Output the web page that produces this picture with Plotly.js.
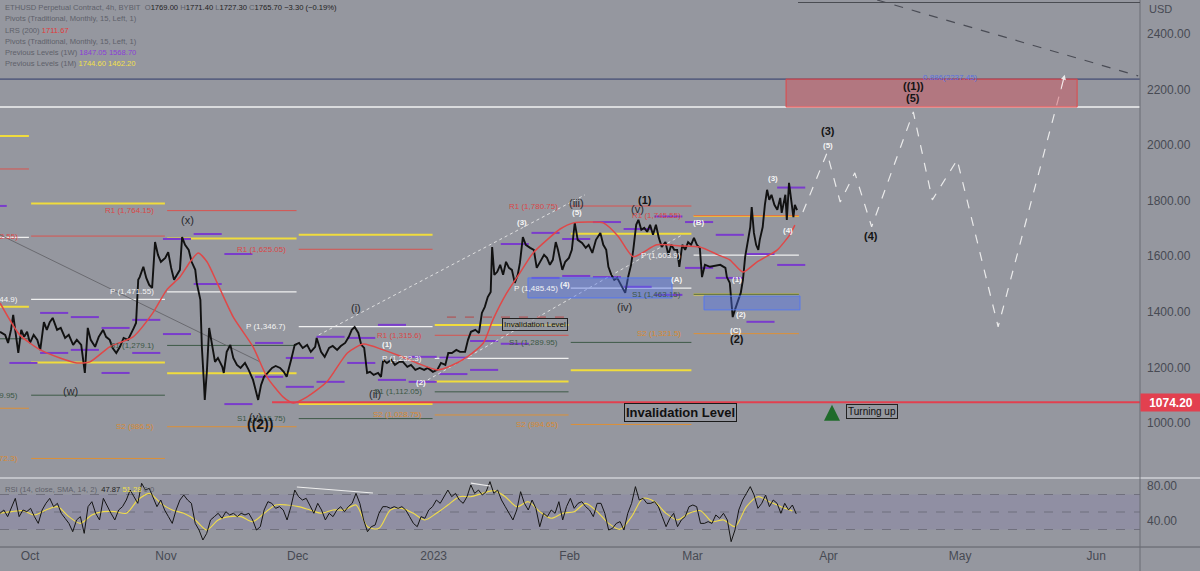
<!DOCTYPE html>
<html><head><meta charset="utf-8">
<script src="https://cdn.plot.ly/plotly-3.0.1.min.js"></script>
<style>html,body{margin:0;padding:0;background:#95979f;overflow:hidden}#chart{width:1200px;height:571px}</style>
</head><body><div id="chart"></div>
<script>
// ---------------- DATA ----------------
const priceTime = [
'2022-09-24 04:00','2022-09-25 08:00','2022-09-26 00:00','2022-09-26 16:00','2022-09-27 04:00','2022-09-27 20:00','2022-09-28 08:00','2022-09-29 00:00','2022-09-29 16:00','2022-09-30 08:00',
'2022-10-01 00:00','2022-10-01 20:00','2022-10-02 16:00','2022-10-03 08:00','2022-10-04 04:00','2022-10-04 20:00','2022-10-05 12:00','2022-10-06 04:00','2022-10-07 04:00','2022-10-08 00:00',
'2022-10-09 00:00','2022-10-09 20:00','2022-10-10 20:00','2022-10-11 16:00','2022-10-12 16:00','2022-10-13 12:00','2022-10-14 04:00','2022-10-14 20:00','2022-10-15 20:00','2022-10-16 16:00',
'2022-10-17 16:00','2022-10-18 08:00','2022-10-19 04:00','2022-10-19 20:00','2022-10-20 16:00','2022-10-21 12:00','2022-10-22 08:00','2022-10-23 08:00','2022-10-24 00:00','2022-10-24 16:00',
'2022-10-25 04:00','2022-10-25 16:00','2022-10-26 00:00','2022-10-26 20:00','2022-10-27 12:00','2022-10-28 04:00','2022-10-28 20:00','2022-10-29 12:00','2022-10-30 04:00','2022-10-30 20:00',
'2022-10-31 20:00','2022-11-01 12:00','2022-11-02 04:00','2022-11-02 20:00','2022-11-03 12:00','2022-11-04 04:00','2022-11-04 16:00','2022-11-05 08:00','2022-11-06 04:00','2022-11-06 20:00',
'2022-11-07 16:00','2022-11-08 00:00','2022-11-08 20:00','2022-11-09 04:00','2022-11-09 16:00','2022-11-09 20:00','2022-11-10 08:00','2022-11-10 20:00','2022-11-11 12:00','2022-11-12 04:00',
'2022-11-12 20:00','2022-11-13 20:00','2022-11-14 04:00','2022-11-14 20:00','2022-11-15 16:00','2022-11-16 08:00','2022-11-17 04:00','2022-11-18 00:00','2022-11-19 00:00','2022-11-19 20:00',
'2022-11-20 20:00','2022-11-21 12:00','2022-11-22 00:00','2022-11-22 16:00','2022-11-23 08:00','2022-11-24 04:00','2022-11-25 04:00','2022-11-26 00:00','2022-11-27 00:00','2022-11-27 20:00',
'2022-11-28 12:00','2022-11-29 12:00','2022-11-30 08:00','2022-12-01 08:00','2022-12-02 04:00','2022-12-03 04:00','2022-12-04 00:00','2022-12-05 00:00','2022-12-05 08:00','2022-12-06 08:00',
'2022-12-07 04:00','2022-12-08 04:00','2022-12-09 00:00','2022-12-10 00:00','2022-12-10 20:00','2022-12-11 20:00','2022-12-12 16:00','2022-12-13 08:00','2022-12-14 00:00','2022-12-14 20:00',
'2022-12-15 12:00','2022-12-16 04:00','2022-12-16 20:00','2022-12-17 12:00','2022-12-18 08:00','2022-12-19 08:00','2022-12-20 00:00','2022-12-20 12:00','2022-12-21 08:00','2022-12-22 08:00',
'2022-12-23 04:00','2022-12-24 04:00','2022-12-25 00:00','2022-12-26 00:00','2022-12-26 20:00','2022-12-27 20:00','2022-12-28 20:00','2022-12-29 20:00','2022-12-30 16:00','2022-12-31 20:00',
'2023-01-01 20:00','2023-01-02 16:00','2023-01-03 16:00','2023-01-04 08:00','2023-01-05 04:00','2023-01-06 04:00','2023-01-07 00:00','2023-01-08 04:00','2023-01-08 20:00','2023-01-09 12:00',
'2023-01-10 12:00','2023-01-11 08:00','2023-01-12 00:00','2023-01-12 16:00','2023-01-13 08:00','2023-01-14 00:00','2023-01-14 08:00','2023-01-14 20:00','2023-01-15 12:00','2023-01-16 04:00',
'2023-01-16 20:00','2023-01-17 12:00','2023-01-18 04:00','2023-01-18 20:00','2023-01-19 12:00','2023-01-20 04:00','2023-01-20 16:00','2023-01-21 08:00','2023-01-22 00:00','2023-01-23 00:00',
'2023-01-23 20:00','2023-01-24 12:00','2023-01-25 08:00','2023-01-26 04:00','2023-01-26 20:00','2023-01-27 12:00','2023-01-28 04:00','2023-01-28 20:00','2023-01-29 08:00','2023-01-30 08:00',
'2023-01-31 00:00','2023-01-31 20:00','2023-02-01 12:00','2023-02-02 04:00','2023-02-02 20:00','2023-02-03 20:00','2023-02-04 16:00','2023-02-05 08:00','2023-02-06 04:00','2023-02-07 00:00',
'2023-02-08 00:00','2023-02-08 16:00','2023-02-09 08:00','2023-02-09 20:00','2023-02-10 12:00','2023-02-11 04:00','2023-02-11 20:00','2023-02-12 12:00','2023-02-13 04:00','2023-02-13 16:00',
'2023-02-14 08:00','2023-02-15 00:00','2023-02-15 12:00','2023-02-16 04:00','2023-02-16 16:00','2023-02-17 08:00','2023-02-18 00:00','2023-02-18 16:00','2023-02-19 08:00','2023-02-20 00:00',
'2023-02-20 16:00','2023-02-21 08:00','2023-02-22 00:00','2023-02-22 20:00','2023-02-23 12:00','2023-02-24 04:00','2023-02-24 20:00','2023-02-25 12:00','2023-02-26 00:00','2023-02-26 16:00',
'2023-02-27 08:00','2023-02-28 00:00','2023-02-28 16:00','2023-03-01 08:00','2023-03-02 00:00','2023-03-02 16:00','2023-03-03 04:00','2023-03-03 20:00','2023-03-05 00:00','2023-03-06 04:00',
'2023-03-07 08:00','2023-03-08 12:00','2023-03-08 20:00','2023-03-09 12:00','2023-03-10 04:00','2023-03-10 16:00','2023-03-11 04:00','2023-03-11 16:00','2023-03-12 00:00','2023-03-12 12:00',
'2023-03-13 00:00','2023-03-13 16:00','2023-03-14 04:00','2023-03-14 12:00','2023-03-15 00:00','2023-03-15 12:00','2023-03-16 00:00','2023-03-16 08:00','2023-03-17 00:00','2023-03-17 12:00',
'2023-03-18 00:00','2023-03-18 12:00','2023-03-19 00:00','2023-03-19 16:00','2023-03-20 08:00','2023-03-21 00:00','2023-03-21 08:00','2023-03-22 04:00','2023-03-22 12:00','2023-03-23 00:00',
'2023-03-23 12:00','2023-03-24 00:00','2023-03-24 08:00','2023-03-24 20:00'];
const priceClose = [
1328,1317,1288,1335,1389,1299,1252,1335,1310,1328,
1288,1317,1299,1263,1363,1335,1363,1378,1335,1342,
1306,1317,1281,1299,1281,1180,1342,1299,1274,1310,
1335,1310,1299,1270,1252,1274,1306,1299,1324,1342,
1360,1515,1525,1562,1522,1497,1486,1651,1605,1580,
1594,1615,1558,1515,1533,1551,1669,1641,1623,1580,
1551,1504,1443,1274,1137,1083,1191,1342,1281,1220,
1234,1202,1180,1256,1281,1234,1209,1198,1216,1191,
1155,1108,1083,1137,1166,1180,1198,1205,1198,1184,
1166,1227,1281,1288,1270,1281,1256,1274,1306,1256,
1238,1270,1277,1263,1277,1288,1310,1335,1345,1324,
1281,1270,1180,1184,1173,1180,1166,1227,1216,1227,
1209,1220,1220,1202,1209,1191,1198,1191,1198,1184,
1191,1216,1209,1252,1252,1263,1256,1256,1299,1328,
1335,1324,1396,1418,1453,1471,1633,1533,1544,1569,
1533,1580,1558,1551,1504,1533,1576,1669,1641,1630,
1623,1558,1580,1605,1594,1569,1587,1651,1623,1551,
1580,1594,1623,1720,1659,1648,1630,1641,1612,1659,
1684,1641,1623,1562,1533,1515,1522,1504,1486,1468,
1525,1569,1623,1713,1731,1695,1702,1688,1713,1677,
1713,1666,1633,1651,1605,1641,1623,1623,1562,1641,
1623,1651,1641,1666,1641,1630,1525,1569,1562,1566,
1569,1558,1525,1504,1381,1407,1432,1450,1468,1515,
1598,1659,1705,1777,1684,1641,1623,1659,1705,1785,
1839,1803,1821,1785,1767,1810,1756,1821,1731,1864,
1803,1741,1785,1765.7];

// LRS (200)
const lrsTime = ['2022-09-24 04:00','2022-09-28 16:00','2022-10-03 08:00','2022-10-07 20:00','2022-10-11 16:00','2022-10-14 16:00','2022-10-19 04:00','2022-10-24 12:00','2022-10-29 00:00','2022-11-01 04:00',
'2022-11-04 04:00','2022-11-06 12:00','2022-11-08 08:00','2022-11-10 08:00','2022-11-12 16:00','2022-11-16 08:00','2022-11-20 20:00','2022-11-24 00:00','2022-11-27 16:00','2022-11-30 00:00',
'2022-12-03 04:00','2022-12-07 16:00','2022-12-12 08:00','2022-12-16 00:00','2022-12-20 12:00','2022-12-24 08:00','2022-12-28 04:00','2023-01-01 20:00','2023-01-04 20:00','2023-01-08 16:00',
'2023-01-12 08:00','2023-01-14 12:00','2023-01-17 16:00','2023-01-20 16:00','2023-01-23 16:00','2023-01-26 20:00','2023-01-29 20:00','2023-02-01 20:00','2023-02-05 16:00','2023-02-08 16:00',
'2023-02-12 00:00','2023-02-15 12:00','2023-02-20 20:00','2023-02-26 04:00','2023-03-02 16:00','2023-03-06 20:00','2023-03-09 12:00','2023-03-12 12:00','2023-03-15 16:00','2023-03-20 08:00',
'2023-03-23 04:00','2023-03-24 08:00'];
const lrsValue = [1432,1317,1263,1234,1216,1220,1274,1310,1396,1479,
1525,1580,1612,1580,1504,1381,1274,1166,1094,1072,
1094,1148,1252,1284,1263,1241,1216,1191,1205,1238,
1288,1371,1468,1540,1612,1659,1698,1720,1723,1720,
1673,1598,1641,1637,1633,1605,1587,1543,1579,1623,
1677,1711.67];

// RSI (14) sampled at a regular step from rsiStart
const rsiStart = '2022-09-24 03:50';
const rsiStepHours = 20.94;
const rsiValue = [
48.5,52.3,44.7,55.0,65.6,44.7,52.3,50.4,54.2,44.7,
37.0,52.3,59.9,65.6,56.1,59.9,48.5,42.8,37.0,27.5,
40.9,44.7,25.6,56.1,61.8,48.5,40.9,65.6,56.1,48.5,
40.9,52.3,56.1,63.7,75.1,67.0,59.9,82.8,75.1,77.0,
67.5,56.1,63.7,52.3,44.7,37.0,52.3,63.7,69.4,63.7,
59.9,37.0,29.4,18.0,25.6,40.9,44.7,48.5,42.8,50.4,
46.6,48.5,44.7,48.5,46.6,48.5,40.9,29.4,33.2,52.3,
61.8,59.9,54.2,56.1,52.3,40.9,56.1,75.1,67.5,63.7,
65.6,56.1,48.5,59.9,52.3,40.9,48.5,44.7,52.3,56.1,
50.4,56.1,59.9,71.3,59.9,40.9,27.5,33.2,35.1,48.5,
56.1,56.1,54.2,56.1,54.2,56.1,52.3,44.7,37.0,33.2,
44.7,42.8,52.3,56.1,63.7,59.9,67.5,75.1,67.5,71.3,
63.7,59.9,67.5,80.9,71.3,75.1,69.4,73.2,84.7,71.3,
75.1,63.7,56.1,48.5,40.9,52.3,73.2,59.9,52.3,63.7,
54.2,33.2,48.5,44.7,52.3,48.5,61.8,40.9,56.1,65.6,
54.2,59.9,61.8,56.1,52.3,44.7,59.9,
59.9,48.5,29.4,31.3,37.0,39.0,29.4,48.5,59.9,79.0,
63.7,65.6,59.9,59.9,61.8,56.1,44.7,33.2,42.8,48.5,
33.2,40.9,44.7,56.1,58.0,56.1,37.0,37.0,39.0,37.0,
46.6,42.8,48.5,40.9,16.1,29.4,52.3,63.7,71.3,79.0,
69.4,54.2,59.9,69.4,56.1,63.7,59.9,48.5,59.9,52.3,
58.0,47.87];
const rsiSmaStepHours = 62.82;
const rsiSmaValue = [
48.5,50.4,51.5,46.6,52.3,56.1,44.7,37.0,46.6,50.4,
50.4,48.5,63.7,71.3,59.9,52.3,48.5,40.9,29.4,40.9,
44.7,44.7,39.0,48.5,58.0,58.0,56.1,52.3,48.5,52.3,
52.3,58.0,33.2,31.3,52.3,54.2,48.5,40.9,48.5,58.0,
67.5,67.5,71.3,74.4,67.5,56.1,61.8,50.4,42.8,48.5,
50.4,59.9,50.4,
37.0,30.2,44.7,65.6,61.8,48.5,40.9,48.5,51.5,39.0,
40.9,33.2,56.1,67.5,61.8,56.1,51.28];

// Monthly traditional pivots and previous-month high / low
const monthStart = ['2022-09-01','2022-10-01','2022-11-01','2022-12-01','2023-01-01','2023-02-01','2023-03-01'];
const monthEnd   = ['2022-10-01','2022-11-01','2022-12-01','2023-01-01','2023-02-01','2023-03-01','2023-03-25 12:00'];
const pivotR1 = [1914, 1672.55, 1764.15, 1625.05, 1315.6, 1780.75, 1745.55];
const pivotP  = [1668, 1444.9, 1471.55, 1346.7, 1232.3, 1485.45, 1603.9];
const pivotS1 = [1303, 1099.95, 1279.1, 1015.75, 1112.05, 1289.95, 1463.15];
const pivotS2 = [1053, 872.3, 986.5, 737.4, 1028.75, 994.65, 1321.5];
const prevMonthHigh = [2033, 1789.85, 1664.0, 1677.65, 1352.55, 1680.95, 1744.6];
const prevMonthLow  = [1418, 1217.25, 1178.95, 1068.35, 1149.0, 1190.15, 1462.2];

// Previous-week high / low
const weekStart = ['2022-09-19','2022-09-26','2022-10-03','2022-10-10','2022-10-17','2022-10-24','2022-10-31','2022-11-07','2022-11-14','2022-11-21','2022-11-28','2022-12-05','2022-12-12','2022-12-19','2022-12-26','2023-01-02','2023-01-09','2023-01-16','2023-01-23','2023-01-30','2023-02-06','2023-02-13','2023-02-20','2023-02-27','2023-03-06','2023-03-13','2023-03-20'];
const prevWeekHigh = [1781,null,1396,1381,1342,1371,1662,1680,1608,1288,1234,1310,1306,1353,1238,1235,1295,1644,1684,1662,1723,1698,1743,1723,1677,1608,1847.05];
const prevWeekLow  = [null,1216,1252,1263,1180,1252,1320,1500,1068,1166,1130,1148,1216,1155,1148,1176,1191,1285,1522,1529,1525,1490,1461,1558,1522,1364,1568.70];

// Elliott wave labels
const waveMinorText  = ['(x)','(w)','(v)','(i)','(ii)','(iii)','(iv)','(v)'];
const waveMinorTime  = ['2022-11-06 00:00','2022-10-10 03:00','2022-11-21 12:00','2022-12-14 07:00','2022-12-18 15:00','2023-02-02 12:00','2023-02-13 14:00','2023-02-16 09:00'];
const waveMinorPrice = [1731,1115,1022,1414,1104,1792,1417,1770];
const wavePrimaryText  = ['((2))','(1)','(2)','(3)','(4)','((1))','(5)'];
const wavePrimaryTime  = ['2022-11-22 10:00','2023-02-18 05:00','2023-03-11 05:00','2023-03-31 22:00','2023-04-10 17:00','2023-04-20 07:00','2023-04-20 07:00'];
const wavePrimaryPrice = [996,1803,1302,2051,1673,2213,2170];
const waveSubText  = ['(1)','(2)','(3)','(4)','(5)','(A)','(B)','(C)','(1)','(2)','(3)','(4)','(5)'];
const waveSubTime  = ['2022-12-21 10:00','2022-12-29 03:00','2023-01-21 04:00','2023-01-30 23:00','2023-02-02 17:00','2023-02-25 06:00','2023-03-02 07:00','2023-03-10 17:00','2023-03-11 05:00','2023-03-12 02:00','2023-03-19 09:00','2023-03-22 19:00','2023-03-31 22:00'];
const waveSubPrice = [1284,1144,1720,1500,1756,1515,1720,1331,1518,1389,1878,1691,2000];

// Projected path
const projTime  = ['2023-03-26 04:00','2023-03-31 16:00','2023-04-03 16:00','2023-04-07 00:00','2023-04-10 20:00','2023-04-20 08:00','2023-04-24 16:00','2023-04-30 08:00','2023-05-09 16:00','2023-05-24 20:00'];
const projPrice = [1759,1972,1795,1900,1706,2119,1803,1947,1346,2253];

// Drawings
const invalidationLevel = 1074.20;
const invalidationStart = '2022-11-25 04:00';
const fibLevel = 2237.45, fibLowerLine = 2137;
const fibBoxTime = ['2023-03-22 08:00','2023-05-27 16:00'];
const demandBox1Time = ['2023-01-22 12:00','2023-02-24 08:00'], demandBox1Price = [1450,1522];
const demandBox2Time = ['2023-03-03 15:00','2023-03-25 12:00'], demandBox2Price = [1407,1457];
const trendGreyTime = ['2022-09-24 04:00','2022-11-22 10:00'], trendGreyPrice = [1677,1220];
const channelUpperTime = ['2022-12-05 20:00','2023-02-04 12:00'], channelUpperPrice = [1317,1821];
const channelLowerTime = ['2022-12-30 16:00','2023-02-26 16:00'], channelLowerPrice = [1155,1677];
const topDashTime = ['2023-04-12 02:00','2023-06-10 14:00'], topDashPrice = [2522,2249];
const smallInvalTime = ['2023-01-04 01:00','2023-01-31 15:00'], smallInvalPrice = 1381;
const rsiDivTime1 = ['2022-11-30 20:00','2022-12-18 04:00'], rsiDiv1 = [78.6,71.7];
const rsiDivTime2 = ['2023-01-09 12:00','2023-01-13 20:00'], rsiDiv2 = [83.1,79.7];

const xRange = ['2022-09-24 03:50','2023-06-11 00:00'];
const xTickVals = ['2022-10-01','2022-11-01','2022-12-01','2023-01-01','2023-02-01','2023-03-01','2023-04-01','2023-05-01','2023-06-01'];
const xTickText = ['Oct','Nov','Dec','2023','Feb','Mar','Apr','May','Jun'];
const priceTicks = [1000,1200,1400,1600,1800,2000,2200,2400];
const rsiTicks = [40,80];

// ---------------- HELPERS ----------------
const DAY = 86400000;
function toMs(s){const p=s.split(' ');const d=p[0].split('-').map(Number);const t=(p[1]||'00:00').split(':').map(Number);return Date.UTC(d[0],d[1]-1,d[2],t[0],t[1]);}
function toStr(ms){return new Date(ms).toISOString().slice(0,16).replace('T',' ');}
function shift(s,days){return toStr(toMs(s)+days*DAY);}
function fmtNum(v){return v.toLocaleString('en-US',{maximumFractionDigits:2});}

const rsiTime = rsiValue.map((_,i)=>toStr(toMs(rsiStart)+i*rsiStepHours*3600000));
const rsiSmaTime = rsiSmaValue.map((_,i)=>toStr(toMs(rsiStart)+i*rsiSmaStepHours*3600000));

const FONT = 'Liberation Sans, Arial, sans-serif';
const C = {bg:'#95979f', red:'#d9534f', white:'#f0f0f0', s1:'#3e5a48', s2:'#dc9038', yellow:'#f0dc3c', purple:'#7a3ccc', axis:'#474a53', dark:'#1c1c1c'};

const shapes = [];
const annotations = [];
function seg(x0,x1,y0,y1,color,width,dash,yref,layer){
  shapes.push({type:'line',xref:'x',yref:yref||'y',x0:x0,x1:x1,y0:y0,y1:y1,layer:layer||'below',line:{color:color,width:width,dash:dash||'solid'}});
}

// RSI band and levels
shapes.push({type:'rect',xref:'paper',yref:'y2',x0:0,x1:1,y0:30,y1:70,fillcolor:'rgba(118,96,196,0.13)',line:{width:0},layer:'below'});
[70,50,30].forEach(v=>shapes.push({type:'line',xref:'paper',yref:'y2',x0:0,x1:1,y0:v,y1:v,layer:'below',line:{color:'rgba(70,70,82,0.45)',width:1,dash:'dash'}}));

// Monthly pivots
const rangeStartMs = toMs(xRange[0]);
for(let i=0;i<monthStart.length;i++){
  const a = shift(monthStart[i],0.25), b = shift(monthEnd[i],-0.25);
  seg(a,b,prevMonthHigh[i],prevMonthHigh[i],C.yellow,2);
  seg(a,b,prevMonthLow[i],prevMonthLow[i],C.yellow,2);
  seg(a,b,pivotR1[i],pivotR1[i],C.red,1);
  seg(a,b,pivotP[i],pivotP[i],C.white,1.2);
  seg(a,b,pivotS1[i],pivotS1[i],C.s1,1);
  seg(a,b,pivotS2[i],pivotS2[i],C.s2,1);
  if(toMs(monthStart[i])>rangeStartMs){
    const lx = shift(monthStart[i],-2.2);
    [['R1',pivotR1[i],'#d94848'],['P',pivotP[i],'#f4f4f4'],['S1',pivotS1[i],'#3b5745'],['S2',pivotS2[i],'#d98a30']].forEach(r=>{
      if(r[1]>802) annotations.push({xref:'x',yref:'y',x:lx,y:r[1],xanchor:'right',yanchor:'middle',showarrow:false,
        text:r[0]+' ('+fmtNum(r[1])+')',font:{family:FONT,size:8,color:r[2]}});
    });
  }
}
// Weekly levels
for(let i=0;i<weekStart.length;i++){
  const a = shift(weekStart[i],0.3), b = shift(weekStart[i],6.7);
  if(prevWeekHigh[i]!==null) seg(a,b,prevWeekHigh[i],prevWeekHigh[i],C.purple,2);
  if(prevWeekLow[i]!==null) seg(a,b,prevWeekLow[i],prevWeekLow[i],C.purple,2);
}
// Other drawings
seg(xRange[0],xRange[1],fibLevel,fibLevel,'#2f3a6a',1);
seg(xRange[0],xRange[1],fibLowerLine,fibLowerLine,'#f2f2f2',1.5);
seg(invalidationStart,xRange[1],invalidationLevel,invalidationLevel,'#e2404f',2,'solid','y','above');
seg(trendGreyTime[0],trendGreyTime[1],trendGreyPrice[0],trendGreyPrice[1],'rgba(95,95,100,0.8)',1);
seg(channelUpperTime[0],channelUpperTime[1],channelUpperPrice[0],channelUpperPrice[1],'rgba(235,235,235,0.85)',1,'dot');
seg(channelLowerTime[0],channelLowerTime[1],channelLowerPrice[0],channelLowerPrice[1],'rgba(235,235,235,0.85)',1,'dot');
seg(topDashTime[0],topDashTime[1],topDashPrice[0],topDashPrice[1],'#4a4c55',1.2,'dash');
seg(smallInvalTime[0],smallInvalTime[1],smallInvalPrice,smallInvalPrice,'#b54848',1,'dash');
seg(rsiDivTime1[0],rsiDivTime1[1],rsiDiv1[0],rsiDiv1[1],'#eeeeee',1.2,'solid','y2','above');
seg(rsiDivTime2[0],rsiDivTime2[1],rsiDiv2[0],rsiDiv2[1],'#eeeeee',1.2,'solid','y2','above');
shapes.push({type:'rect',xref:'x',yref:'y',x0:fibBoxTime[0],x1:fibBoxTime[1],y0:fibLowerLine,y1:fibLevel,fillcolor:'rgba(212,80,90,0.45)',line:{color:'#e04848',width:1},layer:'above'});
shapes.push({type:'rect',xref:'x',yref:'y',x0:demandBox1Time[0],x1:demandBox1Time[1],y0:demandBox1Price[0],y1:demandBox1Price[1],fillcolor:'rgba(80,115,235,0.42)',line:{color:'#5577ee',width:1},layer:'above'});
shapes.push({type:'rect',xref:'x',yref:'y',x0:demandBox2Time[0],x1:demandBox2Time[1],y0:demandBox2Price[0],y1:demandBox2Price[1],fillcolor:'rgba(80,115,235,0.42)',line:{color:'#5577ee',width:1},layer:'above'});
// pane separators
const sepY = 1-478/547;
shapes.push({type:'line',xref:'paper',yref:'paper',x0:0,x1:1200/1140,y0:sepY,y1:sepY,line:{color:'#cfd1d6',width:1.5}});
shapes.push({type:'line',xref:'paper',yref:'paper',x0:0,x1:1200/1140,y0:0,y1:0,line:{color:'#5e6169',width:1}});
shapes.push({type:'line',xref:'paper',yref:'paper',x0:1,x1:1,y0:-0.05,y1:1,line:{color:'#6a6d75',width:1}});
shapes.push({type:'line',xref:'paper',yref:'paper',x0:0.7,x1:1,y0:1-2.5/547,y1:1-2.5/547,line:{color:'#4a4c52',width:1}});

// Wave labels
waveMinorText.forEach((t,i)=>annotations.push({xref:'x',yref:'y',x:waveMinorTime[i],y:waveMinorPrice[i],text:t,showarrow:false,font:{family:FONT,size:11,color:'#2a2a2e'}}));
wavePrimaryText.forEach((t,i)=>annotations.push({xref:'x',yref:'y',x:wavePrimaryTime[i],y:wavePrimaryPrice[i],text:'<b>'+t+'</b>',showarrow:false,font:{family:FONT,size:t==='((2))'?14:11,color:'#141414'}}));
waveSubText.forEach((t,i)=>annotations.push({xref:'x',yref:'y',x:waveSubTime[i],y:waveSubPrice[i],text:'<b>'+t+'</b>',showarrow:false,font:{family:FONT,size:8,color:'#f4f4f4'}}));

// Boxes / notes
annotations.push({xref:'x',yref:'y',x:'2023-02-26 08:00',y:1036,text:'<b>Invalidation Level</b>',showarrow:false,font:{family:FONT,size:13,color:'#111'},bordercolor:'#1a1a1a',borderwidth:1,borderpad:1,bgcolor:'rgba(150,152,160,0.85)'});
annotations.push({xref:'x',yref:'y',x:'2023-01-24 04:00',y:1356,text:'Invalidation Level',showarrow:false,font:{family:FONT,size:8,color:'#111'},bordercolor:'#222',borderwidth:1,borderpad:1,bgcolor:'rgba(150,152,160,0.7)'});
annotations.push({xref:'x',yref:'y',x:'2023-04-10 20:00',y:1040,text:'Turning up',showarrow:false,font:{family:FONT,size:10,color:'#111'},bordercolor:'#222',borderwidth:1,borderpad:1,bgcolor:'rgba(150,152,160,0.7)'});
annotations.push({xref:'x',yref:'y',x:'2023-04-01 19:00',y:1066,text:'',showarrow:true,ax:0,ay:15,arrowhead:2,arrowsize:0.8,arrowwidth:4,arrowcolor:'#1f6b2a'});
annotations.push({xref:'x',yref:'y',x:projTime[projTime.length-1],y:projPrice[projPrice.length-1],text:'',showarrow:true,ax:-4,ay:16,arrowhead:2,arrowsize:1,arrowwidth:1,arrowcolor:'rgba(240,240,240,0.95)'});
annotations.push({xref:'x',yref:'y',x:'2023-04-28 17:00',y:fibLevel+4,text:'0.886(2237.45)',showarrow:false,font:{family:FONT,size:8,color:'#5a6fe0'}});
annotations.push({xref:'paper',yref:'y',x:1,y:invalidationLevel,xanchor:'left',yanchor:'middle',text:'<b>1074.20</b>',showarrow:false,font:{family:FONT,size:12,color:'#ffffff'},bgcolor:'#e2404f',width:56,height:13,borderpad:2});
annotations.push({xref:'paper',yref:'paper',x:1147/1140,y:1-9/547,xanchor:'left',yanchor:'middle',text:'USD',showarrow:false,font:{family:FONT,size:11,color:C.axis}});

// Legend texts
const g='#5e616a', k='#1e1e1e', sp='&nbsp;';
function leg(py,txt){annotations.push({xref:'paper',yref:'paper',x:3/1140,y:1-py/547,xanchor:'left',yanchor:'middle',showarrow:false,text:txt,font:{family:FONT,size:7.6,color:g}});}
function S(c,t){return '<span style="color:'+c+'">'+t+'</span>';}
leg(7, S(g,'ETHUSD Perpetual Contract, 4h, BYBIT')+sp+sp+S(g,'O')+S(k,'1769.00')+sp+S(g,'H')+S(k,'1771.40')+sp+S(g,'L')+S(k,'1727.30')+sp+S(g,'C')+S(k,'1765.70')+sp+S(k,'−3.30 (−0.19%)'));
leg(19, S(g,'Pivots (Traditional, Monthly, 15, Left, 1)'));
leg(30.5, S(g,'LRS (200)')+sp+S('#e03a3a','1711.67'));
leg(41.5, S(g,'Pivots (Traditional, Monthly, 15, Left, 1)'));
leg(52.5, S(g,'Previous Levels (1W)')+sp+S('#8a3fd6','1847.05')+sp+S('#8a3fd6','1568.70'));
leg(63, S(g,'Previous Levels (1M)')+sp+S('#f2e04a','1744.60')+sp+S('#f2e04a','1462.20'));
leg(489, S(g,'RSI (14, close, SMA, 14, 2)')+sp+sp+S(k,'47.87')+sp+S('#f2e04a','51.28')+sp+S(g,'0')+sp+S(g,'0'));

// ---------------- TRACES ----------------
const traces = [
  {x:priceTime,y:priceClose,type:'scatter',mode:'lines',line:{color:'#111',width:1.9},xaxis:'x',yaxis:'y',hoverinfo:'skip'},
  {x:lrsTime,y:lrsValue,type:'scatter',mode:'lines',line:{color:'#e04848',width:1.5,shape:'spline',smoothing:0.6},xaxis:'x',yaxis:'y',hoverinfo:'skip'},
  {x:projTime,y:projPrice,type:'scatter',mode:'lines',line:{color:'rgba(238,238,238,0.95)',width:1.2,dash:'dash'},xaxis:'x',yaxis:'y',hoverinfo:'skip'},
  {x:rsiSmaTime,y:rsiSmaValue,type:'scatter',mode:'lines',line:{color:'#f0dc4a',width:1.1,shape:'spline',smoothing:0.8},xaxis:'x',yaxis:'y2',hoverinfo:'skip'},
  {x:rsiTime,y:rsiValue,type:'scatter',mode:'lines',line:{color:'#151515',width:1},xaxis:'x',yaxis:'y2',hoverinfo:'skip'}
];

const layout = {
  width:1200,height:571,margin:{l:0,r:60,t:0,b:24,pad:0},
  paper_bgcolor:C.bg,plot_bgcolor:C.bg,showlegend:false,
  font:{family:FONT,size:12,color:C.axis},
  xaxis:{type:'date',range:xRange,domain:[0,1],anchor:'y2',tickmode:'array',tickvals:xTickVals,ticktext:xTickText,
         showgrid:false,zeroline:false,showline:false,ticks:'',tickfont:{family:FONT,size:12,color:C.axis}},
  yaxis:{domain:[sepY,1],range:[802,2522],side:'right',anchor:'x',tickmode:'array',tickvals:priceTicks,
         ticktext:priceTicks.map(v=>v.toFixed(2)),showgrid:false,zeroline:false,showline:false,ticks:'',ticklabelstandoff:6,
         tickfont:{family:FONT,size:12,color:C.axis}},
  yaxis2:{domain:[0,sepY],range:[10,88.86],side:'right',anchor:'x',tickmode:'array',tickvals:rsiTicks,
         ticktext:rsiTicks.map(v=>v.toFixed(2)),showgrid:false,zeroline:false,showline:false,ticks:'',ticklabelstandoff:6,
         tickfont:{family:FONT,size:12,color:C.axis}},
  shapes:shapes,annotations:annotations
};
Plotly.newPlot('chart',traces,layout,{staticPlot:true,displayModeBar:false});
</script></body></html>
